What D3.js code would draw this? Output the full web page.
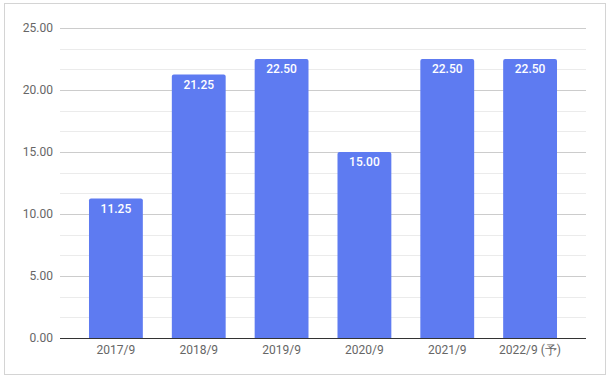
<!DOCTYPE html>
<html><head><meta charset="utf-8">
<script src="https://cdn.jsdelivr.net/npm/d3@7"></script>
<style>
html,body{margin:0;padding:0;background:#fff;}
svg{display:block;font-family:Roboto,Arial,sans-serif;}
</style></head>
<body>
<svg id="chart" width="612" height="380"></svg>
<script>
const categories = ["2017/9","2018/9","2019/9","2020/9","2021/9","2022/9 (予)"];
const values = [11.25, 21.25, 22.50, 15.00, 22.50, 22.50];
const yTicks = [0, 5, 10, 15, 20, 25];

const svg = d3.select("#chart");
const W = 612, H = 380;
const m = {left: 60, right: 26, top: 28, bottom: 42};
const x0 = m.left, x1 = W - m.right, y0 = H - m.bottom, y1 = m.top;

svg.append("rect").attr("x",4.5).attr("y",3.5).attr("width",601).attr("height",371)
  .attr("fill","#fff").attr("stroke","#d4d4d4").attr("stroke-width",1);

const x = d3.scaleBand().domain(categories).range([x0, x1]).padding(0.35);
const y = d3.scaleLinear().domain([0, 25]).range([y0, y1]);

// minor gridlines
const minor = [];
for (let i = 0; i < 25; i += 5) { minor.push(i + 5/3, i + 10/3); }
svg.append("g").selectAll("line").data(minor).join("line")
  .attr("x1", x0).attr("x2", x1)
  .attr("y1", d => Math.round(y(d)) + 0.5).attr("y2", d => Math.round(y(d)) + 0.5)
  .attr("stroke", "#ebebeb");

// major gridlines
svg.append("g").selectAll("line").data(yTicks.filter(d => d > 0)).join("line")
  .attr("x1", x0).attr("x2", x1)
  .attr("y1", d => Math.round(y(d)) + 0.5).attr("y2", d => Math.round(y(d)) + 0.5)
  .attr("stroke", "#cccccc");

// y labels
svg.append("g").selectAll("text").data(yTicks).join("text")
  .attr("x", 53).attr("y", d => y(d)).attr("dy", "0.35em")
  .attr("text-anchor", "end").attr("font-size", 12).attr("fill", "#666")
  .text(d => d.toFixed(2));

// bars
const r = 2;
svg.append("g").selectAll("path").data(values).join("path")
  .attr("fill", "#5e7bf1")
  .attr("d", (d, i) => {
    const bx = x(categories[i]), bw = x.bandwidth(), top = y(d), bot = y(0);
    return `M${bx},${bot}V${top + r}Q${bx},${top} ${bx + r},${top}H${bx + bw - r}Q${bx + bw},${top} ${bx + bw},${top + r}V${bot}Z`;
  });

// value labels
svg.append("g").selectAll("text").data(values).join("text")
  .attr("x", (d, i) => x(categories[i]) + x.bandwidth() / 2)
  .attr("y", d => y(d) + 14)
  .attr("text-anchor", "middle").attr("font-size", 12).attr("font-weight", 500)
  .attr("fill", "#fff")
  .text(d => d.toFixed(2));

// baseline
svg.append("line").attr("x1", x0).attr("x2", x1)
  .attr("y1", Math.round(y(0)) + 0.5).attr("y2", Math.round(y(0)) + 0.5)
  .attr("stroke", "#333").attr("stroke-width", 1);

// x labels
svg.append("g").selectAll("text").data(categories).join("text")
  .attr("x", d => x(d) + x.bandwidth() / 2).attr("y", y0 + 16)
  .attr("text-anchor", "middle").attr("font-size", 12).attr("fill", "#666")
  .text(d => d);
</script>
</body></html>
